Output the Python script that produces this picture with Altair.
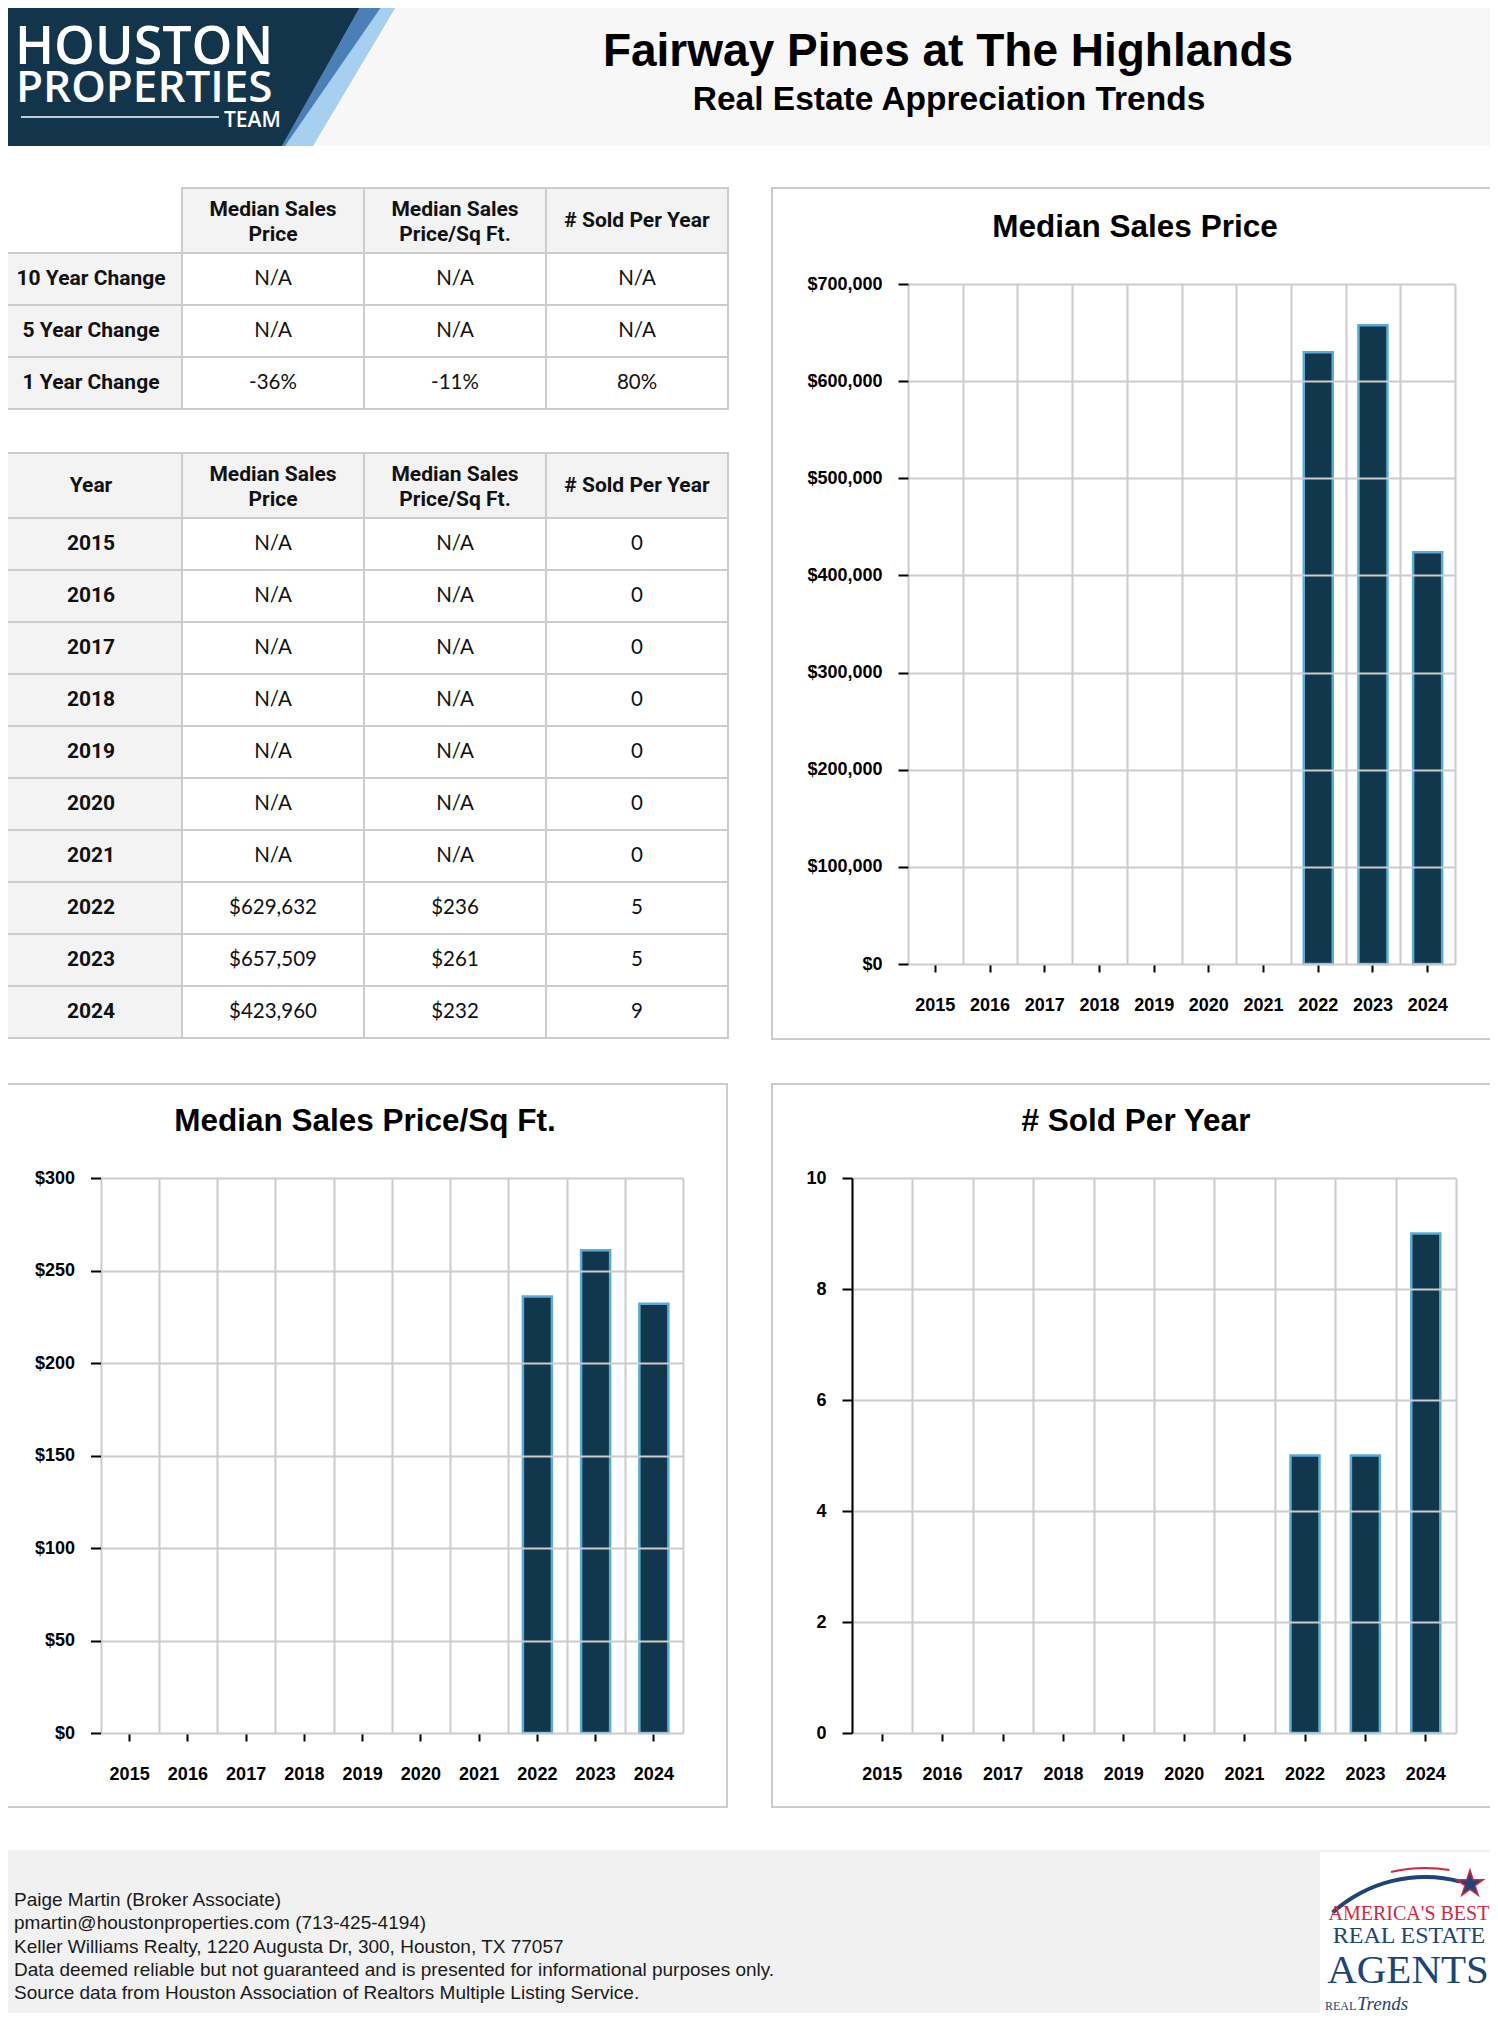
import altair as alt
import pandas as pd

# ------------------------------------------------------------------ data
years = ["2015", "2016", "2017", "2018", "2019", "2020", "2021", "2022", "2023", "2024"]
median_price = [None, None, None, None, None, None, None, 629632, 657509, 423960]
median_ppsf = [None, None, None, None, None, None, None, 236, 261, 232]
sold_per_year = [0, 0, 0, 0, 0, 0, 0, 5, 5, 9]

change_rows = ["10 Year Change", "5 Year Change", "1 Year Change"]
change_price = ["N/A", "N/A", "-36%"]
change_ppsf = ["N/A", "N/A", "-11%"]
change_sold = ["N/A", "N/A", "80%"]

metric_headers = ["Median Sales\nPrice", "Median Sales\nPrice/Sq Ft.", "# Sold Per Year"]
year_header = "Year"
chart_titles = ["Median Sales Price", "Median Sales Price/Sq Ft.", "# Sold Per Year"]

price_ticks = [0, 100000, 200000, 300000, 400000, 500000, 600000, 700000]
ppsf_ticks = [0, 50, 100, 150, 200, 250, 300]
sold_ticks = [0, 2, 4, 6, 8, 10]

page_title = "Fairway Pines at The Highlands"
page_subtitle = "Real Estate Appreciation Trends"
logo_words = ["HOUSTON", "PROPERTIES", "TEAM"]
footer_lines = [
    "Paige Martin (Broker Associate)",
    "pmartin@houstonproperties.com (713-425-4194)",
    "Keller Williams Realty, 1220 Augusta Dr, 300, Houston, TX 77057",
    "Data deemed reliable but not guaranteed and is presented for informational purposes only.",
    "Source data from Houston Association of Realtors Multiple Listing Service.",
]
badge_words = ["AMERICA'S BEST", "REAL ESTATE", "AGENTS", "REAL", "Trends"]

# ------------------------------------------------------------------ layout / style
W, H = 1482, 2005
M = 8


def P(v):
    return v - M


NAVY = "#11374d"
BAR_STROKE = "#5aabd7"
GRID = "#cccccc"
CELL_GRAY = "#f3f3f3"
SANS = "Liberation Sans"
SERIF = "Liberation Serif"

one = pd.DataFrame({"k": [0]})


def deco():
    return alt.Chart(one)


def label(text, x, y, size, color="#000000", font=SANS, weight="normal",
          align="center", baseline="alphabetic", style="normal", line_height=None):
    kw = dict(text=text, fontSize=size, color=color, font=font, fontWeight=weight,
              align=align, baseline=baseline, fontStyle=style)
    if line_height:
        kw.update(lineBreak="\n", lineHeight=line_height)
    return deco().mark_text(**kw).encode(x=alt.value(P(x)), y=alt.value(P(y)))


def box(x1, y1, x2, y2, **kw):
    return deco().mark_rect(**kw).encode(
        x=alt.value(P(x1)), x2=alt.value(P(x2)), y=alt.value(P(y1)), y2=alt.value(P(y2)))


def poly(points, color):
    path = "M" + "L".join(f"{P(x)},{P(y)}" for x, y in points) + "Z"
    return deco().mark_point(shape=path, size=4, filled=True, fill=color,
                             opacity=1, strokeWidth=0).encode(x=alt.value(0), y=alt.value(0))


layers = []

# ------------------------------------------------------------------ header
layers.append(box(0, 0, 1498, 146, fill="#f7f7f7"))
layers.append(poly([(364, 0), (400, 0), (313, 146), (282, 146)], "#a6cff0"))
layers.append(poly([(364, 0), (386, 0), (285, 146), (282, 146)], "#4a7fb8"))
layers.append(poly([(0, 0), (364, 0), (282, 146), (0, 146)], "#12354c"))
layers.append(label(logo_words[0], 15, 64, 52, color="#ffffff", font="Open Sans", weight=600, align="left"))
layers.append(label(logo_words[1], 16, 102, 44, color="#ffffff", font="Open Sans", weight=600, align="left"))
layers.append(deco().mark_rule(color="#ffffff", strokeWidth=1.5).encode(
    x=alt.value(P(21)), x2=alt.value(P(219)), y=alt.value(P(117))))
layers.append(label(logo_words[2], 224, 127, 21, color="#ffffff", font="Open Sans", weight=600, align="left"))
layers.append(label(page_title, 948, 66, 46, weight="bold"))
layers.append(label(page_subtitle, 949, 110, 33.5, weight="bold"))

# ------------------------------------------------------------------ tables
TABLE_X = dict(domain=[0, 1, 2, 3], range=[P(0), P(728)], paddingInner=0, paddingOuter=0)
HEAD_FONT = dict(font="Roboto", fontWeight="bold", fontSize=21, color="#111111", baseline="middle")


def table(header_texts, header_cols, body_rows, y_top, y_mid, y_bot):
    out = []
    hx = alt.Scale(**TABLE_X)
    hy = alt.Scale(domain=[0], range=[P(y_top), P(y_mid)], paddingInner=0, paddingOuter=0)
    hdf = pd.DataFrame({"c": header_cols, "r": [0] * len(header_cols), "t": header_texts})
    henc = dict(x=alt.X("c:O", scale=hx, axis=None), y=alt.Y("r:O", scale=hy, axis=None))
    out.append(alt.Chart(hdf).mark_rect(fill=CELL_GRAY, stroke=GRID, strokeWidth=2).encode(**henc))
    out.append(alt.Chart(hdf).transform_filter("indexof(datum.t, '\\n') >= 0").mark_text(
        lineBreak="\n", lineHeight=25, dy=-11, **HEAD_FONT).encode(text="t:N", **henc))
    out.append(alt.Chart(hdf).transform_filter("indexof(datum.t, '\\n') < 0").mark_text(
        **HEAD_FONT).encode(text="t:N", **henc))
    recs = []
    for i, row in enumerate(body_rows):
        for j, t in enumerate(row):
            recs.append({"r": i, "c": j, "t": t})
    bdf = pd.DataFrame(recs)
    by = alt.Scale(domain=list(range(len(body_rows))), range=[P(y_mid), P(y_bot)],
                   paddingInner=0, paddingOuter=0)
    benc = dict(x=alt.X("c:O", scale=alt.Scale(**TABLE_X), axis=None), y=alt.Y("r:O", scale=by, axis=None))
    out.append(alt.Chart(bdf).mark_rect(stroke=GRID, strokeWidth=2).encode(
        fill=alt.condition("datum.c == 0", alt.value(CELL_GRAY), alt.value("#ffffff")), **benc))
    out.append(alt.Chart(bdf).transform_filter("datum.c == 0").mark_text(
        **HEAD_FONT).encode(text="t:N", **benc))
    out.append(alt.Chart(bdf).transform_filter("datum.c > 0").mark_text(
        font="Lato", fontSize=20.5, color="#111111", baseline="middle").encode(text="t:N", **benc))
    return out


t1_rows = [[change_rows[i], change_price[i], change_ppsf[i], change_sold[i]] for i in range(3)]
layers += table(metric_headers, [1, 2, 3], t1_rows, 188, 253, 409)


def fmt_money(v):
    return "N/A" if v is None else f"${v:,}"


t2_rows = [[years[i], fmt_money(median_price[i]), fmt_money(median_ppsf[i]), str(sold_per_year[i])]
           for i in range(len(years))]
layers += table([year_header] + metric_headers, [0, 1, 2, 3], t2_rows, 453, 518, 1038)

# ------------------------------------------------------------------ chart panels
panel_style = dict(fillOpacity=0, stroke=GRID, strokeWidth=2)
layers.append(box(772, 188, 1510, 1039, **panel_style))
layers.append(box(1, 1084, 727, 1807, **panel_style))
layers.append(box(772, 1084, 1510, 1807, **panel_style))
layers.append(label(chart_titles[0], 1135, 237, 31.5, weight="bold"))
layers.append(label(chart_titles[1], 365, 1131, 31.5, weight="bold"))
layers.append(label(chart_titles[2], 1136, 1131, 31.5, weight="bold"))


def bar_panel(values, ymax, ticks, fmt, l, r, t, b, show_domain):
    df = pd.DataFrame({"year": years, "v": values})
    xs = alt.Scale(domain=years, range=[P(l), P(r)], paddingInner=0, paddingOuter=0)
    ys = alt.Scale(domain=[0, ymax], range=[P(b), P(t)], nice=False, zero=True)
    lab = dict(labelFont=SANS, labelFontWeight="bold", labelFontSize=18, labelColor="#000000")
    vgrid = alt.Chart(df).mark_tick(opacity=0).encode(
        x=alt.X("year:O", scale=xs, axis=alt.Axis(
            orient="top", tickBand="extent", title=None, grid=True, gridColor=GRID, gridWidth=2,
            domain=False, ticks=False, labels=False, zindex=1)),
        y=alt.Y("v:Q", scale=ys, axis=None),
    )
    bars = alt.Chart(df).transform_filter("datum.v > 0").mark_bar(
        size=29, fill=NAVY, stroke=BAR_STROKE, strokeWidth=2.5).encode(
        x=alt.X("year:O", scale=xs, axis=alt.Axis(
            orient="bottom", offset=P(b) - H, title=None, grid=False, domain=False, ticks=True,
            tickSize=8, tickWidth=2, tickColor="#000000", labelAngle=0, labelPadding=24,
            labelOverlap=False, **lab)),
        y=alt.Y("v:Q", scale=ys, axis=alt.Axis(
            orient="left", offset=-P(l), title=None, values=ticks, format=fmt, grid=True,
            gridColor=GRID, gridWidth=2, domain=show_domain, domainColor="#000000", domainWidth=2,
            tickSize=10, tickWidth=2, tickColor="#000000", labelPadding=16, zindex=1, **lab)),
    )
    return [vgrid, bars]


layers += bar_panel(median_price, 700000, price_ticks, "$,.0f", 908, 1455, 284, 964, False)
layers += bar_panel(median_ppsf, 300, ppsf_ticks, "$,.0f", 100.5, 683, 1178, 1733, False)
layers += bar_panel(sold_per_year, 10, sold_ticks, "d", 852, 1456, 1178, 1733, True)

# ------------------------------------------------------------------ footer
layers.append(box(0, 1850, 1498, 2030, fill="#f1f1f1"))
layers.append(label("\n".join(footer_lines), 14, 1900, 19, color="#1a1a1a", align="left",
                    baseline="middle", line_height=23.25))
layers.append(box(1320, 1852, 1498, 2030, fill="#ffffff"))
layers.append(deco().mark_arc(theta=5.55, theta2=6.54, radius=140, radius2=136, fill="#1d4577").encode(
    x=alt.value(P(1425)), y=alt.value(P(2015))))
layers.append(deco().mark_arc(theta=6.05, theta2=6.45, radius=148, radius2=146, fill="#d7263d").encode(
    x=alt.value(P(1425)), y=alt.value(P(2015))))
star = "M0,-1L0.2245,-0.309L0.951,-0.309L0.363,0.118L0.588,0.809L0,0.382L-0.588,0.809L-0.363,0.118L-0.951,-0.309L-0.2245,-0.309Z"
layers.append(deco().mark_point(shape=star, size=784, filled=True, fill="#1d4577", stroke="#d7263d",
                                strokeWidth=1.5, opacity=1).encode(x=alt.value(P(1470)), y=alt.value(P(1884))))
layers.append(label(badge_words[0], 1409, 1920, 20, color="#d7263d", font=SERIF))
layers.append(label(badge_words[1], 1409, 1943, 24, color="#1d4577", font=SERIF))
layers.append(label(badge_words[2], 1408, 1983, 41, color="#1d4577", font=SERIF))
layers.append(label(badge_words[3], 1325, 2010, 12, color="#1d4577", font=SERIF, align="left"))
layers.append(label(badge_words[4], 1357, 2010, 19, color="#1d4577", font=SERIF, align="left", style="italic"))

chart = (
    alt.layer(*layers)
    .properties(width=W, height=H, autosize=alt.AutoSizeParams(type="none"), padding=0, background="#ffffff")
    .resolve_scale(x="independent", y="independent")
    .resolve_axis(x="independent", y="independent")
    .configure_view(stroke=None)
)

chart.save("out.html", embed_options={"renderer": "svg", "actions": False})
